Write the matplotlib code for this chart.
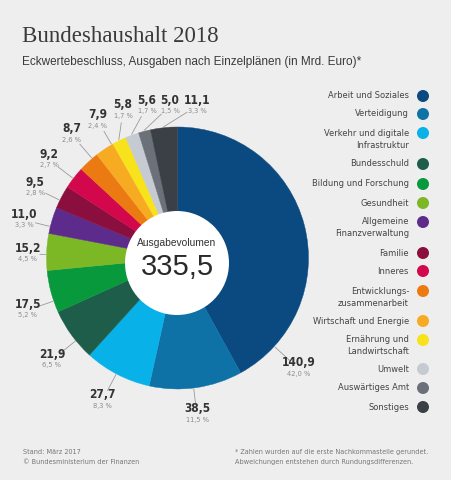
import matplotlib.pyplot as plt
from matplotlib import font_manager
from matplotlib.patches import Circle
import numpy as np

# data
categories = ['Arbeit und Soziales', 'Verteidigung', 'Verkehr und digitale\nInfrastruktur',
              'Bundesschuld', 'Bildung und Forschung', 'Gesundheit',
              'Allgemeine\nFinanzverwaltung', 'Familie', 'Inneres',
              'Entwicklungs-\nzusammenarbeit', 'Wirtschaft und Energie',
              'Ernährung und\nLandwirtschaft', 'Umwelt', 'Auswärtiges Amt', 'Sonstiges']
values = [140.9, 38.5, 27.7, 21.9, 17.5, 15.2, 11.0, 9.5, 9.2, 8.7, 7.9, 5.8, 5.6, 5.0, 11.1]
shares = [42.0, 11.5, 8.3, 6.5, 5.2, 4.5, 3.3, 2.8, 2.7, 2.6, 2.4, 1.7, 1.7, 1.5, 3.3]
total = 335.5

colors = ['#0b4a80', '#0e72a7', '#08b1e8', '#1f5d4b', '#08993d', '#7cb726',
          '#5d2b8c', '#8a0f3f', '#d3084c', '#ec7a12', '#f7ab22', '#f8e21c',
          '#c6cad3', '#6c7179', '#3b3f46']

# layout (pixel coords of the 451x480 picture, y downwards)
W, H = 451, 480
CX, CY, R = 177.5, 258, 131
HOLE_X, HOLE_Y, HOLE_R = 177, 263, 52
label_xy = [(299, 363), (197, 409), (102, 395), (52, 354), (28, 304), (28, 248),
            (24, 214), (35, 182), (49, 154), (72, 129), (98, 115), (123, 105),
            (147, 100), (170, 100), (197, 100)]
legend_y = [96, 114, 133, 164, 184, 203, 222, 253, 271, 291, 321, 340, 369, 388, 407]

# a narrow sans for the small texts
cond = font_manager.FontProperties(family='DejaVu Sans', stretch='condensed')
if 'Condensed' in font_manager.findfont(cond):
    NARROW = dict(family='DejaVu Sans', stretch='condensed')
    k_n = 0.92
else:
    NARROW = dict(family='Roboto')
    k_n = 0.95
sans = 'Liberation Sans'
serif = 'Liberation Serif'

bg = '#eeeeee'
fig = plt.figure(figsize=(W / 100, H / 100), dpi=100, facecolor=bg)
ax = fig.add_axes([0, 0, 1, 1])
ax.set_facecolor(bg)


def Y(y):
    return H - y


ax.pie(values, colors=colors, startangle=90, counterclock=False,
       center=(CX, Y(CY)), radius=R,
       wedgeprops=dict(linewidth=0.3, edgecolor='none'))
for w in ax.patches:
    w.set_edgecolor(w.get_facecolor())
ax.add_patch(Circle((HOLE_X, Y(HOLE_Y)), HOLE_R, facecolor='white', edgecolor='none', zorder=3))
ax.set_xlim(0, W)
ax.set_ylim(0, H)
ax.set_aspect('auto')
ax.axis('off')

# titles
ax.text(22, Y(37), 'Bundeshaushalt 2018', family=serif, fontsize=16.5, color='#3a3a3a',
        va='center', ha='left')
ax.text(22, Y(62), 'Eckwertebeschluss, Ausgaben nach Einzelplänen (in Mrd. Euro)*',
        family=sans, fontsize=8.5, color='#3a3a3a', va='center', ha='left')

# center text
ax.text(HOLE_X, Y(243), 'Ausgabevolumen', family=sans, fontsize=7.4, color='#333333',
        ha='center', va='center', zorder=4)
ax.text(HOLE_X, Y(267), f'{total:.1f}'.replace('.', ','), family=sans, fontsize=21,
        color='#2a2a2a', ha='center', va='center', zorder=4)

# value labels + leader lines
cum = np.concatenate([[0], np.cumsum(values)]) / sum(values) * 360
for i, (v, s) in enumerate(zip(values, shares)):
    lx, ly = label_xy[i]
    ax.text(lx, Y(ly), f'{v:.1f}'.replace('.', ','), fontsize=9.3 * k_n,
            fontweight='bold', color='#333333', ha='center', va='center', **NARROW)
    ax.text(lx, Y(ly + 11), f'{s:.1f} %'.replace('.', ','), fontsize=5.8 * k_n,
            color='#8c8c8c', ha='center', va='center', **NARROW)
    ax_, ay_ = lx, ly + 6
    ang = np.degrees(np.arctan2(ax_ - CX, -(ay_ - CY))) % 360
    if not (cum[i] < ang < cum[i + 1]):
        ang = (cum[i] + cum[i + 1]) / 2
    ex = CX + (R + 1) * np.sin(np.radians(ang))
    ey = CY - (R + 1) * np.cos(np.radians(ang))
    d = np.hypot(ax_ - ex, ay_ - ey)
    t = max(d - 12, 0) / d
    ax.plot([ex, ex + (ax_ - ex) * t], [Y(ey), Y(ey + (ay_ - ey) * t)],
            color='#9a9a9a', lw=0.6)

# legend
for name, c, ly in zip(categories, colors, legend_y):
    ax.add_patch(Circle((423, Y(ly)), 6, facecolor=c, edgecolor='none'))
    for k, line in enumerate(name.split('\n')):
        ax.text(409, Y(ly + 12 * k), line, fontsize=7.3 * k_n, color='#444444',
                ha='right', va='center', **NARROW)

# footer
foot = dict(fontsize=5.7 * k_n, color='#777777', va='center', **NARROW)
ax.text(23, Y(452), 'Stand: März 2017', **foot)
ax.text(23, Y(462), '© Bundesministerium der Finanzen', **foot)
ax.text(235, Y(452), '* Zahlen wurden auf die erste Nachkommastelle gerundet.', **foot)
ax.text(235, Y(462), 'Abweichungen entstehen durch Rundungsdifferenzen.', **foot)

fig.savefig('out.png', dpi=100, facecolor=bg)
